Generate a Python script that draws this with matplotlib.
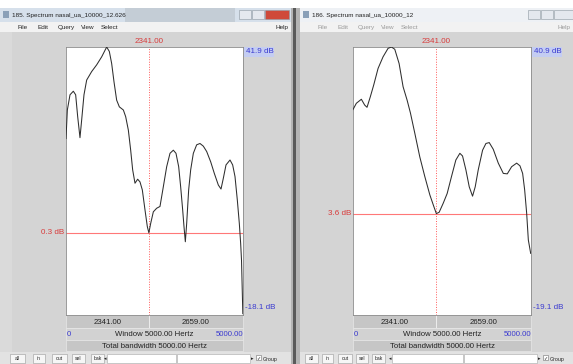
import matplotlib
matplotlib.use('Agg')
import matplotlib.pyplot as plt
from matplotlib.patches import Rectangle

# ============================================
# spectrum data (Hz, dB) for the two windows
# ============================================

freq_185 = [0, 38, 113, 207, 273, 330, 395, 443, 508, 584, 725, 866, 1008,
            1149, 1224, 1290, 1356, 1431, 1507, 1620, 1686, 1761, 1827, 1883,
            1949, 2024, 2090, 2156, 2232, 2297, 2341, 2392, 2467, 2561, 2655,
            2749, 2844, 2938, 3032, 3107, 3183, 3239, 3296, 3333, 3371, 3409,
            3465, 3522, 3597, 3691, 3785, 3879, 3974, 4087, 4190, 4303, 4379,
            4444, 4520, 4633, 4708, 4774, 4840, 4896, 4934, 4958, 4995]
db_185 = [21.4, 27.8, 31.2, 32.0, 31.2, 26.3, 21.6, 25.6, 31.2, 34.5, 36.4,
          37.9, 39.7, 41.9, 40.9, 38.2, 34.1, 30.0, 28.5, 27.8, 26.3, 23.3,
          18.8, 14.4, 11.4, 12.3, 11.7, 9.9, 5.4, 1.7, 0.3, 2.4, 5.0, 5.8,
          6.2, 10.6, 15.1, 18.1, 18.8, 18.1, 15.1, 10.6, 5.4, 1.7, -1.7, 2.4,
          9.9, 14.4, 18.1, 20.0, 20.3, 19.7, 18.5, 16.2, 13.6, 11.0, 10.1,
          12.5, 15.5, 16.6, 15.5, 12.9, 7.6, 2.4, -2.1, -5.8, -17.8]

freq_186 = [0, 94, 235, 328, 394, 488, 582, 704, 844, 985, 1079, 1173, 1295,
            1407, 1520, 1614, 1736, 1876, 2017, 2158, 2270, 2341, 2420, 2533,
            2645, 2767, 2889, 3002, 3077, 3171, 3265, 3358, 3433, 3518, 3640,
            3734, 3827, 3940, 4081, 4222, 4334, 4456, 4597, 4690, 4765, 4822,
            4878, 4925, 4991]
db_186 = [26.9, 28.3, 29.2, 27.9, 27.4, 29.8, 32.4, 36.1, 38.7, 40.6, 40.9,
          40.4, 37.2, 32.0, 29.0, 26.1, 21.6, 16.3, 11.9, 7.8, 5.2, 3.6, 3.9,
          5.9, 8.1, 11.9, 15.6, 17.1, 16.5, 13.4, 9.6, 7.5, 9.6, 13.4, 17.8,
          19.3, 19.5, 18.0, 14.9, 12.6, 12.5, 14.1, 14.9, 14.3, 12.6, 8.9,
          3.7, -2.3, -5.3]

titles = ['185. Spectrum nasal_ua_10000_12.626', '186. Spectrum nasal_ua_10000_12']
max_db = [41.9, 40.9]
cursor_db = [0.3, 3.6]
CURSOR_HZ = 2341.00
WINDOW_HZ = 5000.00
DYN_RANGE = 60.0
menu_items = ['File', 'Edit', 'Query', 'View', 'Select']
buttons = ['all', 'in', 'out', 'sel', 'bak']

# ============================================
# layout (pixels, origin top-left)
# ============================================

W, H = 573, 364
FONT = ['Liberation Sans', 'DejaVu Sans']
RED = '#d83a3a'
BLUE = '#3a3ad0'

fig = plt.figure(figsize=(W / 100, H / 100), dpi=100)
bg = fig.add_axes([0, 0, 1, 1])
bg.set_xlim(0, W)
bg.set_ylim(H, 0)
bg.axis('off')


def rect(x, y, w, h, fc, ec='none', lw=0.0, z=1):
    bg.add_patch(Rectangle((x, y), w, h, facecolor=fc, edgecolor=ec,
                           linewidth=lw, zorder=z))


def txt(x, y, s, size=5.2, color='#222222', ha='left', z=5):
    bg.text(x, y, s, fontsize=size, color=color, ha=ha, va='center_baseline',
            family=FONT, zorder=z)


windows = [
    dict(x0=0, x1=291, plot=(66, 47, 177, 268), active=True,
         freq=freq_185, db=db_185,
         btn_x=[10, 33, 52, 72, 91], btn_w=[15, 12, 15, 13, 13],
         track=(107, 176, 250), group_x=256),
    dict(x0=300, x1=573, plot=(353, 47, 178, 268), active=False,
         freq=freq_186, db=db_186,
         btn_x=[305, 322, 338, 356, 372], btn_w=[13, 11, 14, 12, 13],
         track=(392, 463, 537), group_x=543),
]

# screen strip above the windows, separator between the windows
rect(0, 0, W, 8, '#ffffff')
rect(291, 8, 9, H - 8, '#b4b4b4')
rect(293, 8, 3, H - 8, '#5a5a5a')

for i, win in enumerate(windows):
    x0, x1 = win['x0'], win['x1']
    px, py, pw, ph = win['plot']
    active = win['active']

    # title bar + menu bar
    rect(x0, 8, x1 - x0, 14, '#d6e0eb' if active else '#eef1f5')
    if active:
        rect(125, 8, 110, 14, '#c4cdd6', z=1.5)
    rect(x0 + 3, 11, 6, 7, '#8aa0b8', z=2)
    txt(x0 + 12, 15, titles[i], size=4.6)
    ctrl = x1 - 52 if active else x1 - 45
    rect(ctrl, 10, 12, 9, '#e4e8ee', ec='#8c96a0', lw=0.4, z=2)
    rect(ctrl + 13, 10, 12, 9, '#e4e8ee', ec='#8c96a0', lw=0.4, z=2)
    rect(ctrl + 26, 10, 24 if active else 19, 9,
         '#cf4a3a' if active else '#e4e8ee', ec='#8c96a0', lw=0.4, z=2)
    rect(x0, 22, x1 - x0, 10, '#f2f2f2')
    rect(x0, 31.5, x1 - x0, 0.6, '#c4c4c4', z=2)
    menu_col = '#222222' if active else '#9a9a9a'
    mx = x0 + 17
    for item in menu_items:
        txt(mx, 27, item, size=4.6, color=menu_col)
        mx += len(item) * 3.3 + 7
    txt(x1 - 3, 27, 'Help', size=4.6, color=menu_col, ha='right')

    # window body
    rect(x0, 32, x1 - x0, 320, '#d4d4d4')
    if active:
        rect(x0, 32, 12, 320, '#dadada')
        rect(12.5, 32, 0.8, 320, '#9a9a9a', z=2)

    # rows under the plot
    cur_px = px + CURSOR_HZ / WINDOW_HZ * pw
    rect(px, py + ph, pw, 13, '#c6c6c6', ec='#e8e8e8', lw=0.5, z=2)
    rect(cur_px, py + ph, 0.8, 13, '#ececec', z=3)
    rect(px, py + ph + 13, pw, 12, '#d2d2d2', ec='#e8e8e8', lw=0.5, z=2)
    rect(px, py + ph + 25, pw, 11, '#c6c6c6', ec='#e8e8e8', lw=0.5, z=2)
    txt((px + cur_px) / 2, py + ph + 6.5, f'{CURSOR_HZ:.2f}', size=5.6, ha='center')
    txt((cur_px + px + pw) / 2, py + ph + 6.5, f'{WINDOW_HZ - CURSOR_HZ:.2f}',
        size=5.6, ha='center')
    txt(px + 1, py + ph + 19, '0', size=5.6, color=BLUE)
    txt(px + pw / 2, py + ph + 19, f'Window {WINDOW_HZ:.2f} Hertz', size=5.6, ha='center')
    txt(px + pw, py + ph + 19, f'{WINDOW_HZ:.2f}', size=5.6, color=BLUE, ha='right')
    txt(px + pw / 2, py + ph + 30.5, f'Total bandwidth {WINDOW_HZ:.2f} Hertz',
        size=5.6, ha='center')

    # button row
    rect(x0, 352, x1 - x0, 12, '#e2e2e2')
    for bx, bw, label in zip(win['btn_x'], win['btn_w'], buttons):
        rect(bx, 354, bw, 9, '#f6f6f6', ec='#9a9a9a', lw=0.4, z=2)
        txt(bx + bw / 2, 358.5, label, size=3.6, ha='center')
    t0, t1, t2 = win['track']
    rect(t0, 354, t1 - t0, 9, '#ffffff', ec='#a8a8a8', lw=0.4, z=2)
    rect(t1 + 1, 354, t2 - t1 - 1, 9, '#ffffff', ec='#a8a8a8', lw=0.4, z=2)
    txt(t0 - 2, 358.5, '\u25c2', size=3.6, ha='center')
    txt(t2 + 2, 358.5, '\u25b8', size=3.6, ha='center')
    rect(win['group_x'], 355, 5, 5, '#ffffff', ec='#707070', lw=0.4, z=2)
    txt(win['group_x'] + 2.5, 357.5, '\u2713', size=3.6, ha='center')
    txt(win['group_x'] + 7, 358.5, 'Group', size=3.8)

    # spectrum panel
    ax = fig.add_axes([px / W, 1 - (py + ph) / H, pw / W, ph / H])
    ax.set_facecolor('white')
    ax.plot(win['freq'], win['db'], color='#2e2e2e', lw=0.75, zorder=3)
    ax.set_xlim(0, WINDOW_HZ)
    ax.set_ylim(max_db[i] - DYN_RANGE, max_db[i])
    ax.set_xticks([])
    ax.set_yticks([])
    for sp in ax.spines.values():
        sp.set_color('#8a8a8a')
        sp.set_linewidth(0.6)
    ax.axhline(cursor_db[i], color='#ff7878', lw=0.8, zorder=2)
    ax.axvline(CURSOR_HZ, color='#ff5a5a', lw=0.7, ls=(0, (1, 1.6)), zorder=2)

    lab = dict(fontsize=5.8, family=FONT, annotation_clip=False)
    ax.annotate(f'{CURSOR_HZ:.2f}', xy=(CURSOR_HZ, 1),
                xycoords=('data', 'axes fraction'), xytext=(0, 1.5),
                textcoords='offset points', ha='center', va='bottom',
                color=RED, **lab)
    ax.annotate(f'{max_db[i]:.1f} dB', xy=(1, 1), xycoords='axes fraction',
                xytext=(1.8, -1), textcoords='offset points', ha='left', va='top',
                color=BLUE,
                bbox=dict(boxstyle='square,pad=0.15', fc='#c4cdf2', ec='none'),
                **lab)
    ax.annotate(f'{max_db[i] - DYN_RANGE:.1f} dB', xy=(1, 0),
                xycoords='axes fraction', xytext=(1.5, 3),
                textcoords='offset points', ha='left', va='bottom',
                color=BLUE, **lab)
    rect(px + pw + 1, py + ph - 1.5, 33, 0.6, BLUE, z=4)
    ax.annotate(f'{cursor_db[i]:.1f} dB', xy=(0, cursor_db[i]),
                xycoords=('axes fraction', 'data'), xytext=(-1.5, 0),
                textcoords='offset points', ha='right', va='center',
                color=RED, **lab)

fig.savefig('out.png', dpi=100)
plt.close(fig)
